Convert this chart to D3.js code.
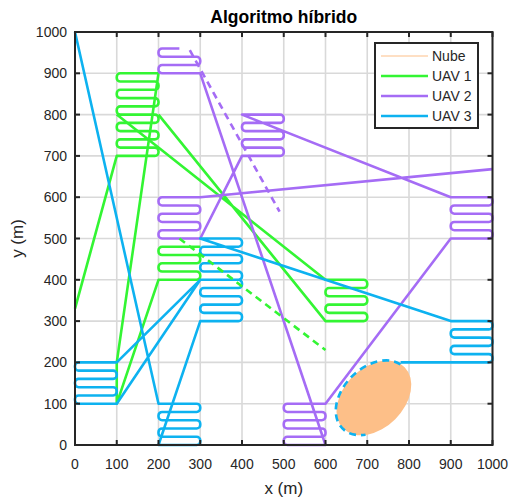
<!DOCTYPE html>
<meta charset="utf-8">
<script src="https://d3js.org/d3.v7.min.js"></script>
<style>
body { margin: 0; background: #fff; }
text { font-family: "Liberation Sans", Arial, Helvetica, sans-serif; fill: #262626; }
.grid line { stroke: #d9d9d9; stroke-width: 1.6; }
.route { fill: none; stroke-width: 2.6; stroke-linejoin: round; }
.dashed { stroke-dasharray: 7 5; }
</style>
<body>
<script>

// ---------- DATA ----------
const legendLabels = ["Nube", "UAV 1", "UAV 2", "UAV 3"];
const xTickValues = [0, 100, 200, 300, 400, 500, 600, 700, 800, 900, 1000];
const yTickValues = [0, 100, 200, 300, 400, 500, 600, 700, 800, 900, 1000];

// sweep cells: edges, rows in flight order, first row from -> to
const sweeps = {
  G1: {cell: [100, 200], rows: [700, 720, 740, 760, 780, 800, 820, 840, 860, 880, 900], from: 100, to: 200},
  G2: {cell: [200, 300], rows: [400, 420, 440, 460, 480], from: 200, to: 300},
  G3: {cell: [600, 700], rows: [400, 380, 360, 340, 320, 300], from: 600, to: 700},
  P1: {cell: [200, 300], rows: [960, 940, 920, 900], from: 250, to: 200},
  P2: {cell: [400, 500], rows: [800, 780, 760, 740, 720, 700], from: 400, to: 500},
  P3: {cell: [200, 300], rows: [500, 520, 540, 560, 580, 600], from: 300, to: 200},
  P4: {cell: [900, 1000], rows: [500, 520, 540, 560, 580, 600], from: 900, to: 1000},
  P5: {cell: [500, 600], rows: [0, 20, 40, 60, 80, 100], from: 600, to: 500},
  B1a: {cell: [300, 400], rows: [300, 320, 340, 360, 380, 400], from: 300, to: 400},
  B1b: {cell: [300, 400], rows: [400, 420, 440, 460, 480, 500], from: 300, to: 400},
  B2: {cell: [0, 100], rows: [200, 180, 160, 140, 120, 100], from: 100, to: 0},
  B3: {cell: [200, 300], rows: [100, 80, 60, 40, 20, 0], from: 200, to: 300},
  B4: {cell: [900, 1000], rows: [300, 280, 260, 240, 220, 200], from: 900, to: 1000}
};

// routes: points [x, y] or sweep names
const uav1Routes = [
  [[0, 330], [100, 700], "G1", [100, 200], [100, 100], [200, 400], "G2"],
  [[100, 800], [600, 400], "G3", [200, 800]]
];
const uav1Dashed = [[250, 500], [600, 230]];

const uav2Routes = [
  ["P1", [600, 0], "P5", [900, 500], "P4", [400, 800], "P2", [300, 500], "P3", [1000, 668]]
];
const uav2Dashed = [[275, 956], [490, 565]];

const uav3Routes = [
  [[0, 1000], [200, 100], "B3", [300, 300], "B1a", [100, 200], "B2", [300, 400], "B1b", [900, 300], "B4", [780, 200]]
];

// cloud: center x, center y, semi-axes (m), tilt (deg)
const cloud = [716, 114, 104, 73, 45];
// dashed track of UAV 3 round the cloud: start and end angle on the ellipse (deg)
const cloudTrack = [10, 222];

// ---------- LAYOUT ----------
const W = 510, H = 502;
const plot = {left: 75, right: 492.5, top: 32, bottom: 445};
const colors = {"Nube": "#fdbf88", "UAV 1": "#33f533", "UAV 2": "#a56cf5", "UAV 3": "#0db2f0"};
const turnR = 3.6;

const x = d3.scaleLinear().domain([0, 1000]).range([plot.left, plot.right]);
const y = d3.scaleLinear().domain([0, 1000]).range([plot.bottom, plot.top]);

const svg = d3.select("body").append("svg")
  .attr("width", W)
  .attr("height", H);

// grid
const grid = svg.append("g").attr("class", "grid");
grid.selectAll(".gx").data(xTickValues).join("line")
  .attr("x1", d => x(d)).attr("x2", d => x(d))
  .attr("y1", plot.top).attr("y2", plot.bottom);
grid.selectAll(".gy").data(yTickValues).join("line")
  .attr("y1", d => y(d)).attr("y2", d => y(d))
  .attr("x1", plot.left).attr("x2", plot.right);

// ---------- CLOUD ----------
const kx = x(1) - x(0), ky = y(0) - y(1);
svg.append("ellipse")
  .attr("cx", x(cloud[0])).attr("cy", y(cloud[1]))
  .attr("rx", cloud[2] * kx).attr("ry", cloud[3] * ky)
  .attr("transform", `rotate(${-cloud[4]} ${x(cloud[0])} ${y(cloud[1])})`)
  .style("fill", colors["Nube"]);

function onCloud(tDeg) {
  const t = tDeg * Math.PI / 180, r = cloud[4] * Math.PI / 180;
  const ex = cloud[2] * Math.cos(t), ey = cloud[3] * Math.sin(t);
  return [cloud[0] + ex * Math.cos(r) - ey * Math.sin(r), cloud[1] + ex * Math.sin(r) + ey * Math.cos(r)];
}

// ---------- ROUTES ----------
function trace(route) {
  const p = d3.path();
  let started = false;
  const go = (px, py) => {
    if (!started) { p.moveTo(px, py); started = true; } else p.lineTo(px, py);
  };
  route.forEach(step => {
    if (Array.isArray(step)) { go(x(step[0]), y(step[1])); return; }
    const s = sweeps[step];
    let a = s.from, b = s.to;
    s.rows.forEach((row, i) => {
      if (i === 0) go(x(a), y(row));
      const next = s.rows[i + 1];
      if (next === undefined) { p.lineTo(x(b), y(row)); return; }
      const other = b === s.cell[0] ? s.cell[1] : s.cell[0];
      p.arcTo(x(b), y(row), x(b), y(next), turnR);
      p.arcTo(x(b), y(next), x(other), y(next), turnR);
      a = b; b = other;
    });
  });
  return p.toString();
}

function drawRoutes(routes, name) {
  svg.selectAll(null).data(routes).join("path")
    .attr("class", "route")
    .attr("d", trace)
    .style("stroke", colors[name]);
}

drawRoutes(uav1Routes, "UAV 1");
drawRoutes(uav2Routes, "UAV 2");
drawRoutes(uav3Routes, "UAV 3");

// dashed legs
const line = d3.line().x(d => x(d[0])).y(d => y(d[1]));
svg.append("path").attr("class", "route dashed").attr("d", line(uav1Dashed)).style("stroke", colors["UAV 1"]);
svg.append("path").attr("class", "route dashed").attr("d", line(uav2Dashed)).style("stroke", colors["UAV 2"]);

// UAV 3 round the cloud
const c0 = onCloud(cloudTrack[0]), c1 = onCloud(cloudTrack[1]);
svg.append("path")
  .attr("class", "route dashed")
  .attr("d", `M${x(c0[0])},${y(c0[1])} A${cloud[2] * kx},${cloud[3] * ky} ${-cloud[4]} ${cloudTrack[1] - cloudTrack[0] > 180 ? 1 : 0} 0 ${x(c1[0])},${y(c1[1])}`)
  .style("stroke", colors["UAV 3"]);

// ---------- AXES ----------
const tickLen = 5;
const axisColor = "#262626";
const ax = svg.append("g");

ax.selectAll(".tx").data(xTickValues).join("line")
  .attr("x1", d => x(d)).attr("x2", d => x(d))
  .attr("y1", plot.bottom).attr("y2", plot.bottom - tickLen)
  .style("stroke", axisColor).style("stroke-width", 2);
ax.selectAll(".tx2").data(xTickValues).join("line")
  .attr("x1", d => x(d)).attr("x2", d => x(d))
  .attr("y1", plot.top).attr("y2", plot.top + tickLen)
  .style("stroke", axisColor).style("stroke-width", 2);
ax.selectAll(".ty").data(yTickValues).join("line")
  .attr("y1", d => y(d)).attr("y2", d => y(d))
  .attr("x1", plot.left).attr("x2", plot.left + tickLen)
  .style("stroke", axisColor).style("stroke-width", 2);
ax.selectAll(".ty2").data(yTickValues).join("line")
  .attr("y1", d => y(d)).attr("y2", d => y(d))
  .attr("x1", plot.right).attr("x2", plot.right - tickLen)
  .style("stroke", axisColor).style("stroke-width", 2);

ax.append("rect")
  .attr("x", plot.left).attr("y", plot.top)
  .attr("width", plot.right - plot.left).attr("height", plot.bottom - plot.top)
  .style("fill", "none").style("stroke", axisColor).style("stroke-width", 2);

ax.selectAll(".lx").data(xTickValues).join("text")
  .attr("x", d => x(d)).attr("y", plot.bottom + 24)
  .attr("text-anchor", "middle")
  .style("font-size", "14px")
  .text(d => d);
ax.selectAll(".ly").data(yTickValues).join("text")
  .attr("x", plot.left - 8).attr("y", d => y(d) + 5)
  .attr("text-anchor", "end")
  .style("font-size", "14px")
  .text(d => d);

svg.append("text")
  .attr("x", (plot.left + plot.right) / 2).attr("y", 494)
  .attr("text-anchor", "middle")
  .style("font-size", "17px")
  .text("x (m)");

svg.append("text")
  .attr("transform", `translate(23,${(plot.top + plot.bottom) / 2}) rotate(-90)`)
  .attr("text-anchor", "middle")
  .style("font-size", "17px")
  .text("y (m)");

svg.append("text")
  .attr("x", (plot.left + plot.right) / 2).attr("y", 23)
  .attr("text-anchor", "middle")
  .style("font-size", "17.5px").style("font-weight", "bold")
  .style("fill", "#000")
  .text("Algoritmo híbrido");

// ---------- LEGEND ----------
const lg = svg.append("g");
lg.append("rect")
  .attr("x", 375).attr("y", 43).attr("width", 103).attr("height", 85)
  .style("fill", "#fff").style("stroke", axisColor).style("stroke-width", 2);
const rowsY = [56, 76, 96, 116];
legendLabels.forEach((name, i) => {
  lg.append("line")
    .attr("x1", 381).attr("x2", 428)
    .attr("y1", rowsY[i]).attr("y2", rowsY[i])
    .style("stroke", colors[name])
    .style("stroke-width", i === 0 ? 1 : 2.6);
  lg.append("text")
    .attr("x", 432).attr("y", rowsY[i] + 5)
    .style("font-size", "14px")
    .text(name);
});

</script>
</body>
